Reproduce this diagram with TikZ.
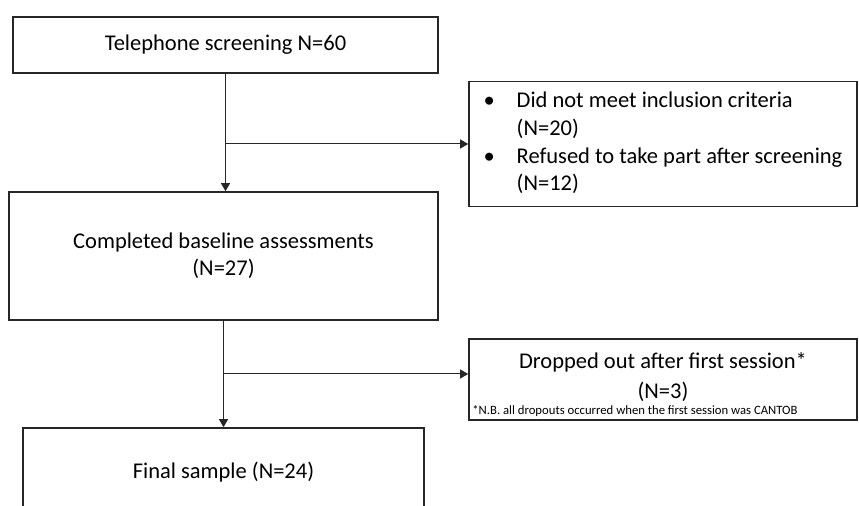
\documentclass[tikz,border=0pt]{standalone}
\usepackage{fontspec}
\setmainfont{Carlito}
\usetikzlibrary{arrows.meta, positioning, calc}

\begin{document}
\begin{tikzpicture}[x=0.5pt, y=-0.5pt,
  box/.style={rectangle,draw=black!85,line width=0.8pt,inner sep=0pt,align=center,font=\fontsize{11.25}{13.5}\selectfont},
  arr/.style={-{Triangle[length=4pt,width=4.5pt]},draw=black!85,line width=0.5pt},
  note/.style={font=\fontsize{6.35}{8}\selectfont,inner sep=0pt}
]
  \clip (0,0) rectangle (859,506);
  \node[box, minimum width=212.5pt, minimum height=28pt] (screen) at (225.5,45) {Telephone screening N=60};
  \node[box, minimum width=214.5pt, minimum height=64pt] (base) at (223.5,256) {Completed baseline assessments\\(N=27)};
  \node[box, minimum width=200.5pt, minimum height=44pt] (final) at (223.5,472) {Final sample (N=24)};
  \node[box, minimum width=194pt, minimum height=62.5pt] (excl) at (663,144)
    {\begin{tabular}{@{}l@{}l@{}}\makebox[16.5pt][l]{\textbullet} & Did not meet inclusion criteria\\[0.3pt] & (N=20)\\[0.3pt] \textbullet & Refused to take part after screening\\[0.3pt] & (N=12)\end{tabular}};
  \node[box, minimum width=194pt, text height=29.8pt, text depth=10.7pt] (drop) at (663,379.5)
    {Dropped out after first session*\\[1.3pt](N=3)};
  \node[note, anchor=west] (cantob) at (472,411) {*N.B. all dropouts occurred when the first session was CANTOB};

  % connectors
  \draw[arr] (screen.south) -- (screen.south |- base.north);
  \draw[arr] (screen.south |- excl.west) -- (excl.west);
  \draw[arr] (base.south) -- (base.south |- final.north);
  \coordinate (j2) at ($(base.south)!0.5!(final.north)$);
  \draw[arr] (j2) -- (j2 -| drop.west);
\end{tikzpicture}
\end{document}
